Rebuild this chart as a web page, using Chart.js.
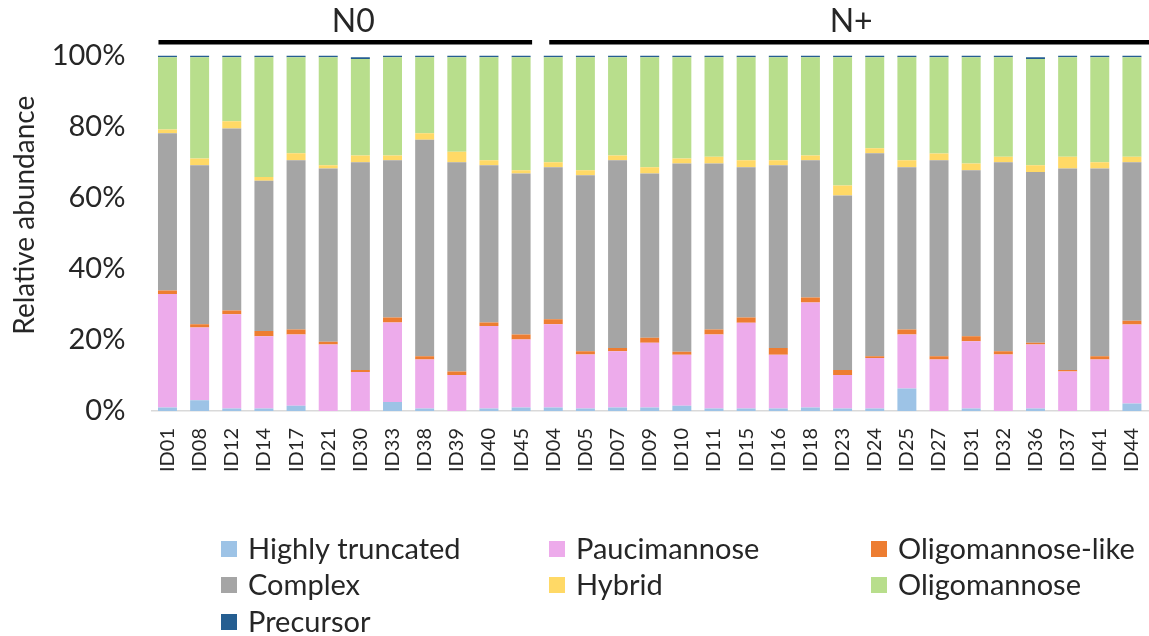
<!DOCTYPE html>
<html>
<head>
<meta charset="utf-8">
<script src="https://cdn.jsdelivr.net/npm/chart.js@4"></script>
<style>
  html, body { margin: 0; padding: 0; background: #fff; }
  #wrap { width: 1149px; height: 636px; position: relative; }
</style>
</head>
<body>
<div id="wrap"><canvas id="c" width="1149" height="636"></canvas></div>
<script>
// Sample IDs, grouped by nodal status
const categories = ['ID01','ID08','ID12','ID14','ID17','ID21','ID30','ID33','ID38','ID39','ID40','ID45',
  'ID04','ID05','ID07','ID09','ID10','ID11','ID15','ID16','ID18','ID23','ID24','ID25','ID27','ID31','ID32','ID36','ID37','ID41','ID44'];
const groupNames = ['N0', 'N+'];
const groupSizes = [12, 19];

// Relative abundance (%) of each glycan class per sample
const highlyTruncated = [1.0,3.0,0.7,0.7,1.5,0.0,0.0,2.5,0.7,0.0,0.7,1.0, 1.0,0.7,1.0,1.0,1.5,0.7,0.7,0.7,1.0,0.7,0.7,6.3,0.0,0.7,0.0,0.7,0.0,0.0,2.1];
const paucimannose    = [31.9,20.5,26.5,20.3,20.0,18.7,11.0,22.4,13.8,10.1,23.2,19.1, 23.4,15.2,15.8,18.2,14.3,20.8,24.1,15.1,29.5,9.4,14.2,15.2,14.5,18.9,15.9,18.0,11.1,14.5,22.2];
const oligomannoseLike= [1.0,0.9,1.1,1.5,1.4,0.8,0.5,1.4,0.9,1.0,1.0,1.4, 1.4,0.9,0.9,1.4,0.9,1.4,1.5,1.9,1.4,1.4,0.5,1.4,0.9,1.4,0.9,0.5,0.4,0.9,1.1];
const complexGlycans  = [44.2,44.7,51.2,42.3,47.6,48.7,58.5,44.2,60.9,58.9,44.2,45.3, 42.8,49.5,52.8,46.2,52.9,46.7,42.3,51.4,38.6,49.1,57.1,45.7,55.1,46.7,53.2,48.0,56.7,52.8,44.6];
const hybrid          = [1.1,1.9,2.0,1.0,2.0,0.9,1.9,1.4,1.8,2.9,1.4,0.9, 1.4,1.4,1.4,1.8,1.4,1.9,1.9,1.4,1.4,2.8,1.4,1.9,1.9,1.9,1.5,1.9,3.3,1.8,1.5];
const oligomannose    = [20.3,28.5,18.0,33.7,27.0,30.4,27.1,27.6,21.4,26.6,29.0,31.8, 29.5,31.8,27.6,30.9,28.5,28.0,29.0,29.0,27.6,36.1,25.6,29.0,27.1,29.9,28.0,29.9,28.0,29.5,28.0];
const precursor       = [0.5,0.5,0.5,0.5,0.5,0.5,0.5,0.5,0.5,0.5,0.5,0.5, 0.5,0.5,0.5,0.5,0.5,0.5,0.5,0.5,0.5,0.5,0.5,0.5,0.5,0.5,0.5,0.5,0.5,0.5,0.5];

const yTicks = [0, 20, 40, 60, 80, 100];
const yTitle = 'Relative abundance';

const FONT = 'Lato, "Open Sans", sans-serif';
const TEXT = '#262626';

const series = [
  { label: 'Highly truncated', data: highlyTruncated, color: '#9DC3E6' },
  { label: 'Paucimannose',     data: paucimannose,    color: '#EDABEB' },
  { label: 'Oligomannose-like',data: oligomannoseLike,color: '#ED7D31' },
  { label: 'Complex',          data: complexGlycans,  color: '#A5A5A5' },
  { label: 'Hybrid',           data: hybrid,          color: '#FFD966' },
  { label: 'Oligomannose',     data: oligomannose,    color: '#B8DE8C' },
  { label: 'Precursor',        data: precursor,       color: '#255E91' }
];

// Group brackets (black bars with N0 / N+ headings) above the plot
const groupBrackets = {
  id: 'groupBrackets',
  afterDraw(chart) {
    const ctx = chart.ctx;
    const x = chart.scales.x;
    let start = 0;
    ctx.save();
    groupSizes.forEach((n, g) => {
      const first = start, last = start + n - 1;
      const x0 = x.getPixelForValue(first) - (g === 0 ? 9 : 4);
      const x1 = g === groupSizes.length - 1 ? chart.width : x.getPixelForValue(last) + 11;
      ctx.fillStyle = '#000';
      ctx.fillRect(x0, 40, x1 - x0, 4.5);
      ctx.font = '32px ' + FONT;
      ctx.fillStyle = TEXT;
      ctx.textAlign = 'center';
      ctx.textBaseline = 'middle';
      ctx.fillText(groupNames[g], (x0 + x1) / 2 + (g === 0 ? 8 : 2), 22);
      start += n;
    });
    ctx.restore();
  }
};

// Rotated y-axis title, sitting slightly above the plot's mid-height
const axisTitle = {
  id: 'axisTitle',
  afterDraw(chart) {
    const ctx = chart.ctx;
    const a = chart.chartArea;
    ctx.save();
    ctx.translate(25, (a.top + a.bottom) / 2 - 18);
    ctx.rotate(-Math.PI / 2);
    ctx.font = '28px ' + FONT;
    ctx.fillStyle = TEXT;
    ctx.textAlign = 'center';
    ctx.textBaseline = 'middle';
    ctx.fillText(yTitle, 0, 0);
    ctx.restore();
  }
};

// Legend laid out as a three-column grid under the axis labels
const gridLegend = {
  id: 'gridLegend',
  afterDraw(chart) {
    const ctx = chart.ctx;
    const colX = [221, 549, 871];
    const rowY = [549, 585, 622];
    ctx.save();
    ctx.font = '29px ' + FONT;
    ctx.textAlign = 'left';
    ctx.textBaseline = 'middle';
    chart.data.datasets.forEach((ds, i) => {
      const cx = colX[i % 3], cy = rowY[Math.floor(i / 3)];
      ctx.fillStyle = ds.backgroundColor;
      ctx.fillRect(cx, cy - 8, 16, 16);
      ctx.fillStyle = TEXT;
      ctx.fillText(ds.label, cx + 27, cy + 1);
    });
    ctx.restore();
  }
};

new Chart(document.getElementById('c'), {
  type: 'bar',
  data: {
    labels: categories,
    datasets: series.map(s => ({
      label: s.label,
      data: s.data,
      backgroundColor: s.color,
      borderWidth: 0,
      categoryPercentage: 1.0,
      barPercentage: 0.59
    }))
  },
  options: {
    responsive: false,
    animation: false,
    layout: { padding: { top: 55.5, right: 1, bottom: 145, left: 0 } },
    plugins: { legend: { display: false }, tooltip: { enabled: false } },
    scales: {
      x: {
        stacked: true,
        grid: { display: false, drawTicks: false },
        border: { display: true, color: '#D9D9D9', width: 1.5 },
        ticks: {
          minRotation: 90, maxRotation: 90, padding: 17, autoSkip: false,
          color: TEXT, font: { family: FONT, size: 20 }
        },
        afterFit(scale) {
          scale.height = 80;
          scale.paddingLeft = 0;
          scale.paddingRight = 0;
        }
      },
      y: {
        stacked: true,
        min: 0, max: 100,
        afterBuildTicks(scale) { scale.ticks = yTicks.map(v => ({ value: v })); },
        grid: { display: false, drawTicks: false },
        border: { display: false },
        ticks: {
          padding: 26, color: TEXT, font: { family: FONT, size: 29 },
          callback: v => v + '%'
        },
        afterFit(scale) {
          scale.width = 151.4;
          scale.paddingTop = 0;
          scale.paddingBottom = 0;
        }
      }
    }
  },
  plugins: [groupBrackets, axisTitle, gridLegend]
});
</script>
</body>
</html>
